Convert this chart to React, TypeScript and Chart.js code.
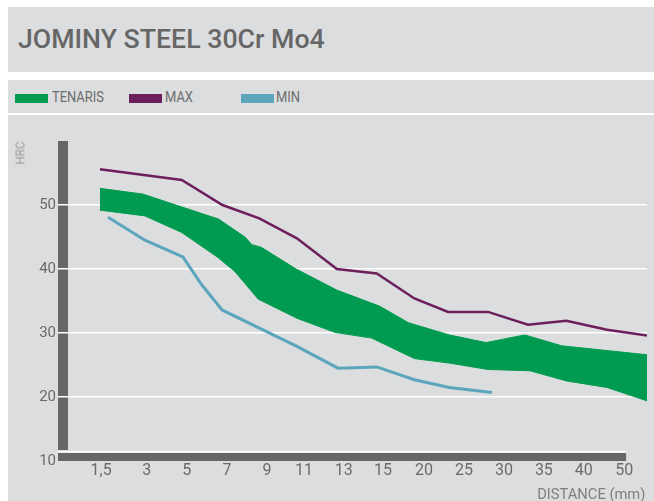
import React, { useEffect, useRef } from 'react';
import { Chart, registerables } from 'chart.js';

Chart.register(...registerables);

// ---------- data ----------
const TITLE = 'JOMINY STEEL 30Cr Mo4';
const Y_LABEL = 'HRC';
const X_LABEL = 'DISTANCE (mm)';
const LEGEND_NAMES = ['TENARIS', 'MAX', 'MIN'];

// distance tick labels and their positions on the (slot-based) distance axis
const TICK_LABELS = ['1,5', '3', '5', '7', '9', '11', '13', '15', '20', '25', '30', '35', '40', '50'];
const TICK_POS = [-0.08, 1.1, 2.13, 3.17, 4.2, 5.15, 6.18, 7.19, 8.25, 9.28, 10.31, 11.34, 12.37, 13.41];
const Y_TICKS = [10, 20, 30, 40, 50];

// MAX curve
const MAX_X = [-0.11, 2, 3.05, 4, 4.97, 6, 7.03, 8, 8.87, 9.9, 10.93, 11.92, 12.97, 14];
const MAX_Y = [55.6, 53.9, 50.0, 47.9, 44.8, 40.0, 39.3, 35.4, 33.3, 33.3, 31.3, 31.9, 30.5, 29.6];

// MIN curve
const MIN_X = [0.1, 1.05, 2.03, 2.52, 3.04, 4.97, 6.03, 7.03, 8.0, 8.9, 10.0];
const MIN_Y = [48.1, 44.5, 41.9, 37.5, 33.6, 27.9, 24.5, 24.7, 22.7, 21.5, 20.7];

// TENARIS band - upper edge
const TEN_HI_X = [-0.11, 1, 2, 2.95, 3.63, 3.81, 4.05, 4.95, 6, 7.1, 7.85, 8.9, 9.85, 10.85, 11.8, 12.9, 14];
const TEN_HI_Y = [52.6, 51.7, 49.7, 47.8, 45.0, 43.8, 43.4, 40.0, 36.7, 34.2, 31.6, 29.7, 28.5, 29.7, 28.0, 27.3, 26.6];

// TENARIS band - lower edge
const TEN_LO_X = [-0.11, 1.05, 2, 2.91, 3.37, 3.97, 4.97, 5.95, 6.9, 8.0, 8.9, 9.9, 10.98, 11.93, 12.96, 14];
const TEN_LO_Y = [49.2, 48.3, 45.7, 41.9, 39.6, 35.3, 32.3, 30.1, 29.2, 26.0, 25.3, 24.3, 24.1, 22.5, 21.5, 19.4];

// ---------- styles ----------
const BG = '#dcdddf';
const GREEN = '#009b50';
const PURPLE = '#6d1f5c';
const BLUE = '#5ba6bd';
const BAR = '#666666';
const TEXT = '#666666';
const FONT = 'Roboto, "Liberation Sans", Arial, sans-serif';

const pts = (xs: number[], ys: number[]) => xs.map((x, i) => ({ x, y: ys[i] }));

const axisBars = {
  id: 'axisBars',
  beforeDraw(chart: any) {
    const { ctx, chartArea, scales } = chart;
    const xs = scales.x;
    const left = chartArea.left - 10;
    const bottom = chartArea.bottom;
    const right = xs.getPixelForValue(TICK_POS[TICK_POS.length - 1]) + 2;
    ctx.save();
    ctx.fillStyle = BAR;
    ctx.fillRect(left, chartArea.top, 10, bottom - 11 - chartArea.top);
    ctx.fillRect(left, bottom - 8, right - left, 8);
    ctx.fillStyle = '#ffffff';
    ctx.fillRect(left, bottom - 10, right - left, 1.5);
    ctx.restore();
  },
};

function JominyChart() {
  const ref = useRef<HTMLCanvasElement | null>(null);
  useEffect(() => {
    if (!ref.current) return;
    const chart = new Chart(ref.current, {
      type: 'line',
      data: {
        datasets: [
          {
            label: LEGEND_NAMES[1],
            data: pts(MAX_X, MAX_Y),
            borderColor: PURPLE,
            borderWidth: 2.5,
            pointRadius: 0,
            fill: false,
            tension: 0,
          },
          {
            label: LEGEND_NAMES[2],
            data: pts(MIN_X, MIN_Y),
            borderColor: BLUE,
            borderWidth: 3,
            pointRadius: 0,
            fill: false,
            tension: 0,
          },
          {
            label: LEGEND_NAMES[0],
            data: pts(TEN_HI_X, TEN_HI_Y),
            borderColor: GREEN,
            backgroundColor: GREEN,
            borderWidth: 1,
            pointRadius: 0,
            fill: '+1',
            tension: 0,
          },
          {
            label: LEGEND_NAMES[0] + ' min',
            data: pts(TEN_LO_X, TEN_LO_Y),
            borderColor: GREEN,
            backgroundColor: GREEN,
            borderWidth: 1,
            pointRadius: 0,
            fill: false,
            tension: 0,
          },
        ],
      },
      options: {
        animation: false,
        responsive: false,
        devicePixelRatio: 1,
        layout: { padding: { top: 26, right: 7, left: 0, bottom: 0 } },
        plugins: {
          legend: { display: false },
          tooltip: { enabled: false },
        },
        scales: {
          x: {
            type: 'linear',
            min: -0.934,
            max: 14.0,
            afterBuildTicks: (scale: any) => {
              scale.ticks = TICK_POS.map((v) => ({ value: v }));
            },
            afterFit: (scale: any) => {
              scale.height = 40;
            },
            grid: { display: false, drawTicks: false },
            border: { display: false },
            ticks: {
              autoSkip: false,
              maxRotation: 0,
              padding: 0,
              color: '#6b6b6b',
              font: { family: FONT, size: 16 },
              callback: (_v: any, i: number) => TICK_LABELS[i],
            },
          },
          y: {
            type: 'linear',
            min: 10,
            max: 60,
            afterBuildTicks: (scale: any) => {
              scale.ticks = Y_TICKS.map((v) => ({ value: v }));
            },
            afterFit: (scale: any) => {
              scale.width = 60;
            },
            grid: {
              color: (c: any) => (c.tick && c.tick.value === 10 ? 'rgba(0,0,0,0)' : '#ffffff'),
              lineWidth: 1.5,
              drawTicks: true,
              tickLength: 10,
            },
            border: { display: false },
            ticks: {
              padding: 2,
              color: '#6b6b6b',
              font: { family: FONT, size: 15 },
              callback: (v: any) => String(v),
            },
          },
        },
      },
      plugins: [axisBars],
    } as any);
    return () => chart.destroy();
  }, []);
  return (
    <canvas
      ref={ref}
      width={646}
      height={386}
      style={{ position: 'absolute', left: 8, top: 115, width: 646, height: 386 }}
    />
  );
}

const legendColors = [GREEN, PURPLE, BLUE];
const legendRectX = [15, 129, 241];
const legendTextX = [52, 165, 276];

export default function App() {
  return (
    <div
      style={{
        position: 'absolute',
        left: 0,
        top: 0,
        width: 654,
        height: 501,
        overflow: 'hidden',
        background: '#ffffff',
        fontFamily: FONT,
      }}
    >
      <div style={{ position: 'absolute', left: 8, top: 7, width: 646, height: 65, background: BG }} />
      <div
        style={{
          position: 'absolute',
          left: 18,
          top: 26,
          fontSize: 26.7,
          lineHeight: '27px',
          fontWeight: 500,
          color: TEXT,
          whiteSpace: 'nowrap',
        }}
      >
        {TITLE}
      </div>
      <div style={{ position: 'absolute', left: 8, top: 80, width: 646, height: 33, background: BG }} />
      {LEGEND_NAMES.map((name, i) => (
        <React.Fragment key={name}>
          <div
            style={{
              position: 'absolute',
              left: legendRectX[i],
              top: 94,
              width: 33,
              height: 9,
              background: legendColors[i],
            }}
          />
          <div
            style={{
              position: 'absolute',
              left: legendTextX[i],
              top: 90,
              fontSize: 15,
              lineHeight: '15px',
              color: '#6d6d6d',
              whiteSpace: 'nowrap',
              transform: 'scaleX(0.86)',
              transformOrigin: 'left center',
            }}
          >
            {name}
          </div>
        </React.Fragment>
      ))}
      <div style={{ position: 'absolute', left: 8, top: 115, width: 646, height: 386, background: BG }} />
      <JominyChart />
      <div
        style={{
          position: 'absolute',
          left: 20,
          top: 153,
          fontSize: 13,
          lineHeight: '13px',
          color: '#9a9a9a',
          whiteSpace: 'nowrap',
          transform: 'translate(-50%, -50%) rotate(-90deg) scaleX(0.9)',
        }}
      >
        {Y_LABEL}
      </div>
      <div
        style={{
          position: 'absolute',
          right: 9,
          top: 487,
          fontSize: 15,
          lineHeight: '15px',
          color: '#7f7f7f',
          whiteSpace: 'nowrap',
          transform: 'scaleX(0.98)',
          transformOrigin: 'right center',
        }}
      >
        {X_LABEL}
      </div>
    </div>
  );
}
